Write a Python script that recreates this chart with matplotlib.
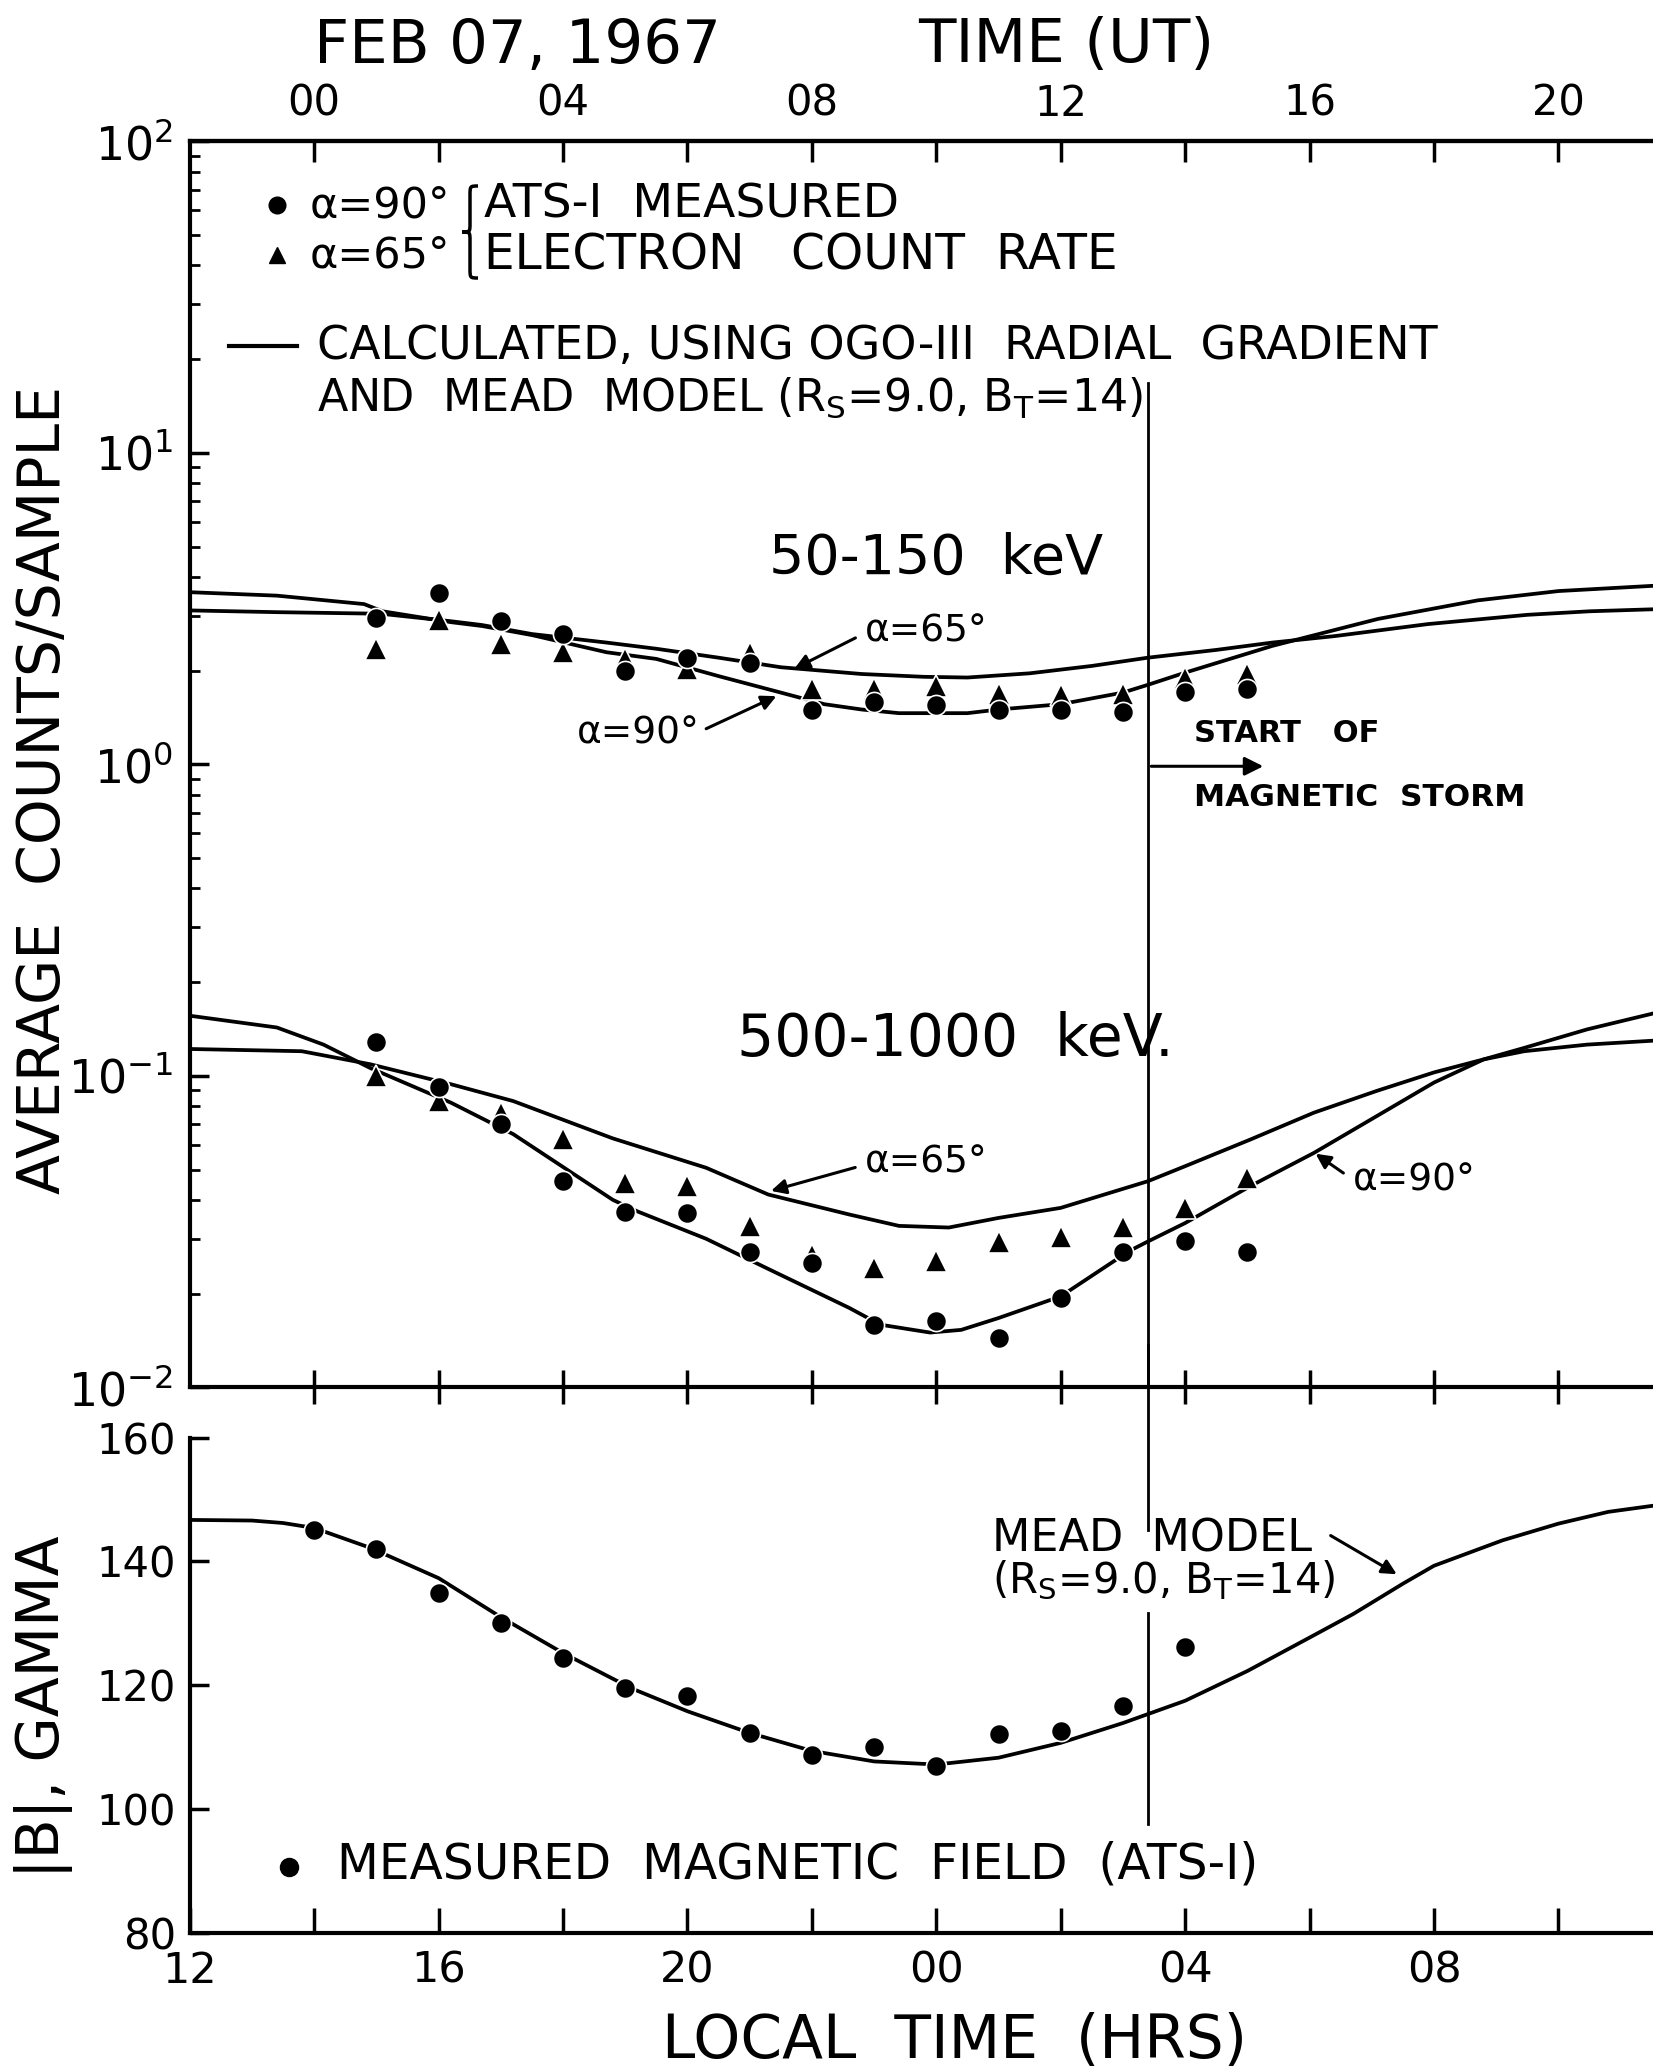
import math

import matplotlib
matplotlib.use("Agg")
import matplotlib.pyplot as plt
from matplotlib.lines import Line2D
from matplotlib.path import Path
from matplotlib.patches import PathPatch
from matplotlib.ticker import FixedLocator, FuncFormatter, NullFormatter, LogLocator

plt.rcParams['font.family'] = ['DejaVu Sans']
plt.rcParams['mathtext.fontset'] = 'dejavusans'

W, H = 1653, 2072

# local time in hours; values past 24 are the next day (24 = 00, 28 = 04 ...)
lt_meas = [15, 16, 17, 18, 19, 20, 21, 22, 23, 24, 25, 26, 27, 28, 29]

# 50-150 keV measured counts/sample
hi_90 = [2.95, 3.55, 2.88, 2.62, 2.00, 2.20, 2.12, 1.50, 1.58, 1.55, 1.49, 1.49, 1.47, 1.71, 1.75]
hi_65 = [2.35, 2.90, 2.43, 2.30, 2.18, 2.03, 2.28, 1.74, 1.74, 1.79, 1.68, 1.67, 1.68, 1.90, 1.95]

# 500-1000 keV measured counts/sample
lo_90 = [0.128, 0.092, 0.070, 0.046, 0.0367, 0.0363, 0.0273, 0.0250, 0.0159, 0.0163,
         0.0144, 0.0193, 0.0272, 0.0296, 0.0272]
lo_65 = [0.100, 0.083, 0.076, 0.0625, 0.0454, 0.0443, 0.0329, 0.0267, 0.0242, 0.0254,
         0.0292, 0.0303, 0.0328, 0.0376, 0.0470]

# calculated curves (OGO-III gradient + Mead model)
lt_hi65 = [12.0, 13.4, 14.8, 15.1, 16.2, 16.7, 17.5, 18.7, 19.5, 20.5, 21.5, 22.8, 23.8,
           24.5, 25.5, 26.5, 27.4, 28.5, 29.4, 30.4, 31.9, 33.5, 34.5, 35.6]
calc_hi65 = [3.12, 3.08, 3.05, 3.04, 2.88, 2.80, 2.62, 2.46, 2.35, 2.20, 2.05, 1.95, 1.91,
             1.90, 1.96, 2.07, 2.20, 2.33, 2.46, 2.58, 2.82, 3.02, 3.10, 3.15]
lt_hi90 = [12.0, 13.4, 14.8, 15.1, 16.2, 16.7, 17.5, 18.7, 19.5, 20.5, 21.5, 22.2, 22.8,
           23.4, 24.5, 25.0, 26.0, 27.0, 27.4, 28.0, 29.4, 31.1, 32.7, 34.0, 35.6]
calc_hi90 = [3.57, 3.48, 3.27, 3.10, 2.86, 2.78, 2.60, 2.29, 2.18, 1.92, 1.70, 1.56, 1.50,
             1.46, 1.46, 1.50, 1.56, 1.70, 1.80, 1.97, 2.40, 2.93, 3.36, 3.60, 3.75]

lt_lo65 = [12.0, 13.8, 14.9, 16.2, 17.2, 18.8, 20.3, 21.3, 22.6, 23.4, 24.2, 25.0, 26.0,
           27.4, 28.0, 29.05, 30.07, 31.08, 32.0, 32.8, 33.45, 34.46, 35.6]
calc_lo65 = [0.122, 0.120, 0.109, 0.094, 0.083, 0.063, 0.0507, 0.0416, 0.0359, 0.0330,
             0.0326, 0.0350, 0.0377, 0.0459, 0.0513, 0.0625, 0.0762, 0.0895, 0.1026, 0.113,
             0.120, 0.126, 0.130]
lt_lo90 = [12.0, 13.4, 14.15, 14.9, 16.2, 17.2, 18.8, 19.2, 20.3, 21.3, 22.6, 23.1, 23.9,
           24.4, 25.0, 26.0, 27.1, 27.4, 28.0, 29.05, 30.07, 31.08, 32.0, 32.8, 33.45,
           34.46, 35.6]
calc_lo90 = [0.156, 0.143, 0.126, 0.106, 0.082, 0.065, 0.040, 0.0367, 0.030, 0.024, 0.018,
             0.0159, 0.0150, 0.0153, 0.0167, 0.0196, 0.0274, 0.0294, 0.0337, 0.0443, 0.0566,
             0.0743, 0.0952, 0.113, 0.123, 0.141, 0.160]

# magnetic field, gamma
lt_b = [14, 15, 16, 17, 18, 19, 20, 21, 22, 23, 24, 25, 26, 27, 28]
b_meas = [145.0, 142.0, 134.9, 130.1, 124.4, 119.5, 118.3, 112.3, 108.8, 110.0, 107.0,
          112.2, 112.6, 116.7, 126.1]
lt_mead = [12.0, 13.0, 13.5, 14.0, 14.9, 16.0, 17.0, 18.0, 19.1, 20.0, 21.0, 22.0, 23.0,
           24.0, 25.0, 26.0, 27.0, 28.0, 29.0, 30.0, 30.7, 31.5, 32.0, 33.1, 34.0, 34.8, 35.6]
b_mead = [146.7, 146.6, 146.2, 145.4, 142.2, 137.3, 131.0, 125.2, 119.5, 115.8, 112.3,
          109.4, 107.7, 107.2, 108.3, 110.7, 113.9, 117.5, 122.3, 127.7, 131.5, 136.4,
          139.3, 143.4, 146.1, 148.0, 149.1]

storm_lt = 27.41
ut_offset = 14  # local time = UT + 14 h


def fig_px(x, y):
    return x / W, 1 - y / H


fig = plt.figure(figsize=(W / 100, H / 100), dpi=100)
ax = fig.add_axes([0.1148, 0.3304, 0.8852, 0.6014])
axb = fig.add_axes([0.1148, 0.0671, 0.8852, 0.2391])

# ---------------- top panel: count rates ----------------
ax.set_yscale('log')
ax.set_xlim(12, 35.52)
ax.set_ylim(1e-2, 1e2)
for side in ['left', 'top', 'bottom']:
    ax.spines[side].set_linewidth(3)
ax.spines['right'].set_visible(False)

line_kw = dict(color='black', lw=2.7, zorder=2)
ax.plot(lt_hi65, calc_hi65, **line_kw)
ax.plot(lt_hi90, calc_hi90, **line_kw)
ax.plot(lt_lo65, calc_lo65, **line_kw)
ax.plot(lt_lo90, calc_lo90, **line_kw)

circ_kw = dict(ls='none', marker='o', ms=14.5, color='black', mec='white', mew=1.2, zorder=3)
tri_kw = dict(ls='none', marker='^', ms=15.5, color='black', mec='white', mew=1.2, zorder=3)
ax.plot(lt_meas, hi_65, **tri_kw)
ax.plot(lt_meas, hi_90, **circ_kw)
ax.plot(lt_meas, lo_65, **tri_kw)
ax.plot(lt_meas, lo_90, **circ_kw)

ax.xaxis.set_major_locator(FixedLocator(list(range(14, 36, 2))))
ax.xaxis.set_major_formatter(NullFormatter())
ax.tick_params(axis='x', which='major', direction='inout', length=24, width=2.5)
ax.yaxis.set_major_locator(FixedLocator([1e-2, 1e-1, 1e0, 1e1, 1e2]))
ax.yaxis.set_major_formatter(FuncFormatter(lambda v, p: r'$10^{%d}$' % round(math.log10(v))))
ax.yaxis.set_minor_locator(LogLocator(base=10, subs=[2, 3, 4, 5, 6, 7, 8, 9]))
ax.yaxis.set_minor_formatter(NullFormatter())
ax.tick_params(axis='y', which='major', direction='in', length=14, width=2.5, labelsize=33, pad=12)
ax.tick_params(axis='y', which='minor', direction='in', length=7, width=2)

# UT axis on top
sec = ax.secondary_xaxis('top', functions=(lambda t: t - ut_offset, lambda u: u + ut_offset))
sec.spines['top'].set_linewidth(3)
sec.xaxis.set_major_locator(FixedLocator([0, 4, 8, 12, 16, 20]))
sec.xaxis.set_minor_locator(FixedLocator([2, 6, 10, 14, 18]))
sec.xaxis.set_major_formatter(FuncFormatter(lambda v, p: '%02d' % round(v)))
sec.tick_params(which='both', direction='in', length=15, width=2.5, labelsize=30, pad=12)

# energy labels and pointers
ax.text(24.0, 4.57, '50-150  keV', fontsize=40, ha='center', va='center')
ax.text(24.3, 0.1306, '500-1000  keV.', fontsize=42, ha='center', va='center')

arrow_kw = dict(arrowstyle='-|>', color='black', lw=2.2, mutation_scale=22)
ax.text(22.85, 2.67, 'α=65°', fontsize=27, ha='left', va='center')
ax.annotate('', xy=(21.68, 2.01), xytext=(22.74, 2.57), arrowprops=arrow_kw)
ax.text(20.2, 1.259, 'α=90°', fontsize=27, ha='right', va='center')
ax.annotate('', xy=(21.47, 1.67), xytext=(20.26, 1.29), arrowprops=arrow_kw)
ax.text(22.85, 0.0526, 'α=65°', fontsize=27, ha='left', va='center')
ax.annotate('', xy=(21.3, 0.0425), xytext=(22.74, 0.0511), arrowprops=arrow_kw)
ax.text(30.69, 0.0463, 'α=90°', fontsize=27, ha='left', va='center')
ax.annotate('', xy=(30.06, 0.0569), xytext=(30.58, 0.0482), arrowprops=arrow_kw)

# start of magnetic storm
ax.plot([storm_lt, storm_lt], [16.7, 1e-2], color='black', lw=2, clip_on=False, zorder=1)
ax.annotate('', xy=(29.3, 0.986), xytext=(storm_lt, 0.986),
            arrowprops=dict(arrowstyle='-|>', color='black', lw=2.2, mutation_scale=28))
ax.text(28.14, 1.259, 'START   OF', fontsize=22, fontweight='bold', ha='left', va='center')
ax.text(28.14, 0.78, 'MAGNETIC  STORM', fontsize=22.5, fontweight='bold', ha='left', va='center')

# legend block
x, y = fig_px(277, 205)
fig.add_artist(Line2D([x], [y], transform=fig.transFigure, marker='o', ms=12, color='black'))
x, y = fig_px(277, 255)
fig.add_artist(Line2D([x], [y], transform=fig.transFigure, marker='^', ms=12, color='black'))
fig.text(*fig_px(310, 205), 'α=90°', fontsize=31, va='center')
fig.text(*fig_px(310, 255), 'α=65°', fontsize=31, va='center')

# curly brace joining the two legend rows (drawn as a path in pixel space)
bx_r, bx_m, bx_l = 478, 470, 462
by_t, by_m, by_b = 186, 232, 278
brace_px = [(bx_r, by_t), (bx_m, by_t), (bx_m, by_t), (bx_m, by_t + 10),
            (bx_m, by_m - 9),
            (bx_m, by_m), (bx_m, by_m), (bx_l, by_m),
            (bx_m, by_m), (bx_m, by_m), (bx_m, by_m + 9),
            (bx_m, by_b - 10),
            (bx_m, by_b), (bx_m, by_b), (bx_r, by_b)]
brace_codes = [Path.MOVETO, Path.CURVE4, Path.CURVE4, Path.CURVE4, Path.LINETO,
               Path.CURVE4, Path.CURVE4, Path.CURVE4, Path.CURVE4, Path.CURVE4, Path.CURVE4,
               Path.LINETO, Path.CURVE4, Path.CURVE4, Path.CURVE4]
brace = Path([fig_px(px, py) for px, py in brace_px], brace_codes)
fig.add_artist(PathPatch(brace, transform=fig.transFigure, fill=False, lw=2.5, color='black'))

fig.text(*fig_px(484, 205), 'ATS-I  MEASURED', fontsize=34, va='center')
fig.text(*fig_px(484, 255), 'ELECTRON   COUNT  RATE', fontsize=35, va='center')
x0, y0 = fig_px(229, 346)
x1, _ = fig_px(297, 346)
fig.add_artist(Line2D([x0, x1], [y0, y0], transform=fig.transFigure, color='black', lw=3))
fig.text(*fig_px(317, 346), 'CALCULATED, USING OGO-III  RADIAL  GRADIENT', fontsize=33, va='center')
fig.text(*fig_px(317, 398), r'AND  MEAD  MODEL (R$_\mathrm{S}$=9.0, B$_\mathrm{T}$=14)',
         fontsize=32, va='center')

# ---------------- bottom panel: magnetic field ----------------
axb.set_xlim(12, 35.52)
axb.set_ylim(80, 160)
for side in ['left', 'bottom']:
    axb.spines[side].set_linewidth(3)
axb.spines['right'].set_visible(False)
axb.spines['top'].set_visible(False)

axb.plot(lt_mead, b_mead, **line_kw)
axb.plot(lt_b, b_meas, **circ_kw)

axb.xaxis.set_major_locator(FixedLocator(list(range(12, 36, 4))))
axb.xaxis.set_minor_locator(FixedLocator(list(range(14, 36, 4))))
axb.xaxis.set_major_formatter(FuncFormatter(lambda v, p: '%02d' % (round(v) % 24)))
axb.tick_params(axis='x', which='both', direction='in', length=18, width=2.5, labelsize=31, pad=12)
axb.yaxis.set_major_locator(FixedLocator([80, 100, 120, 140, 160]))
axb.tick_params(axis='y', direction='in', length=14, width=2.5, labelsize=30, pad=10)

axb.plot([storm_lt, storm_lt], [175, 145], color='black', lw=2, clip_on=False, zorder=1)
axb.plot([storm_lt, storm_lt], [131.6, 97.6], color='black', lw=2, zorder=1)

axb.text(24.9, 143.6, 'MEAD  MODEL', fontsize=32, ha='left', va='center')
axb.text(24.9, 136.9, r'(R$_\mathrm{S}$=9.0, B$_\mathrm{T}$=14)', fontsize=30, ha='left', va='center')
axb.annotate('', xy=(31.44, 137.7), xytext=(30.3, 144.4), arrowprops=arrow_kw)

axb.plot([13.59], [90.7], ls='none', marker='o', ms=13, color='black')
axb.text(14.37, 91.0, 'MEASURED  MAGNETIC  FIELD  (ATS-I)', fontsize=35, ha='left', va='center')

# ---------------- titles / axis labels ----------------
fig.text(*fig_px(517, 46), 'FEB 07, 1967', fontsize=44, ha='center', va='center')
fig.text(*fig_px(1066, 46), 'TIME (UT)', fontsize=44, ha='center', va='center')
fig.text(*fig_px(44, 790), 'AVERAGE  COUNTS/SAMPLE', fontsize=42, ha='center', va='center',
         rotation=90)
fig.text(*fig_px(44, 1707), '|B|, GAMMA', fontsize=42, ha='center', va='center', rotation=90)
fig.text(*fig_px(954, 2041), 'LOCAL  TIME  (HRS)', fontsize=43, ha='center', va='center')

fig.savefig('out.png', dpi=100, facecolor='white')
